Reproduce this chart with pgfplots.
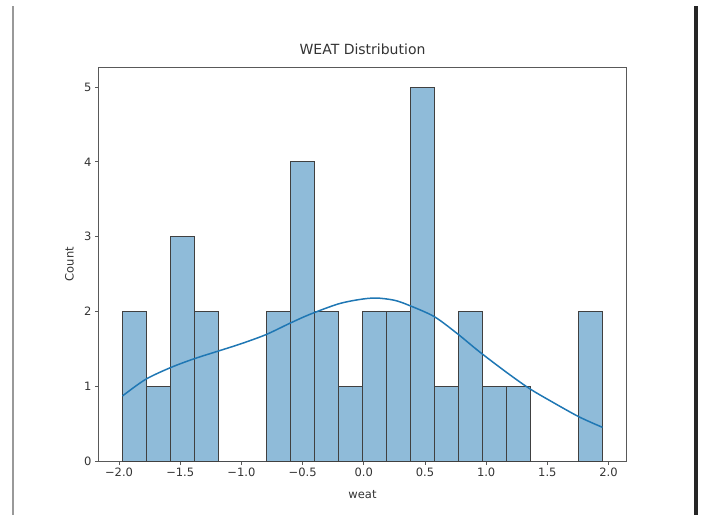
\documentclass[border=0pt]{standalone}
\usepackage{fontspec}
\setmainfont{DejaVu Sans}
\usepackage{pgfplots}
\pgfplotsset{compat=1.18}
\definecolor{barfill}{HTML}{8FBBD9}
\definecolor{kdeline}{HTML}{1F77B4}
\begin{document}
\begin{tikzpicture}
\path[use as bounding box] (0,0) rectangle (703bp,515bp);
\draw[black!40, line width=1.5bp] (13bp,0) -- (13bp,509bp);
\draw[black!85, line width=4bp] (695.5bp,0) -- (695.5bp,509bp);
\begin{axis}[
  at={(98.5bp,54bp)}, anchor=south west,
  scale only axis, width=528bp, height=394bp,
  xmin=-2.168, xmax=2.147, ymin=0, ymax=5.27,
  axis line style={black!65, line width=0.9bp},
  tick pos=left, tick align=outside,
  major tick length=3.5bp,
  every tick/.style={black!65, line width=0.9bp},
  xtick={-2,-1.5,-1,-0.5,0,0.5,1,1.5,2},
  xticklabels={−2.0,−1.5,−1.0,−0.5,0.0,0.5,1.0,1.5,2.0},
  ytick={0,1,2,3,4,5},
  yticklabels={0,1,2,3,4,5},
  tick label style={font=\fontsize{11.5bp}{13bp}\selectfont, text=black!80},
  label style={font=\fontsize{11.5bp}{13bp}\selectfont, text=black!80},
  xlabel={weat}, ylabel={Count},
  xlabel style={at={(axis description cs:0.5,-0.084)}, anchor=center},
  ylabel style={at={(axis description cs:-0.055,0.5)}, anchor=center},
  title={WEAT Distribution},
  title style={at={(axis description cs:0.5,1.030)}, anchor=center, font=\fontsize{14bp}{16bp}\selectfont, text=black!80},
  clip=false,
]
\addplot[ybar interval, fill=barfill, draw=black!75, line width=1bp] coordinates {
(-1.9720,2) (-1.7759,1) (-1.5797,3) (-1.3836,2) (-1.1874,0) (-0.9913,0)
(-0.7951,2) (-0.5990,4) (-0.4028,2) (-0.2067,1) (-0.0105,2) (0.1857,2)
(0.3818,5) (0.5780,1) (0.7741,2) (0.9703,1) (1.1664,1) (1.3626,0)
(1.5587,0) (1.7549,2) (1.9510,2)
};
\addplot[kdeline, line width=1.5bp, smooth, no markers] coordinates {
(-1.972,0.87) (-1.785,1.09) (-1.578,1.25) (-1.382,1.37) (-1.19,1.47)
(-1.0,1.57) (-0.80,1.69) (-0.607,1.84) (-0.443,1.96) (-0.21,2.10) (-0.035,2.16)
(0.10,2.18) (0.25,2.15) (0.373,2.08) (0.577,1.93) (0.767,1.70)
(0.946,1.46) (1.163,1.19) (1.353,0.97) (1.54,0.79) (1.76,0.59) (1.951,0.45)
};
\end{axis}
\end{tikzpicture}
\end{document}
